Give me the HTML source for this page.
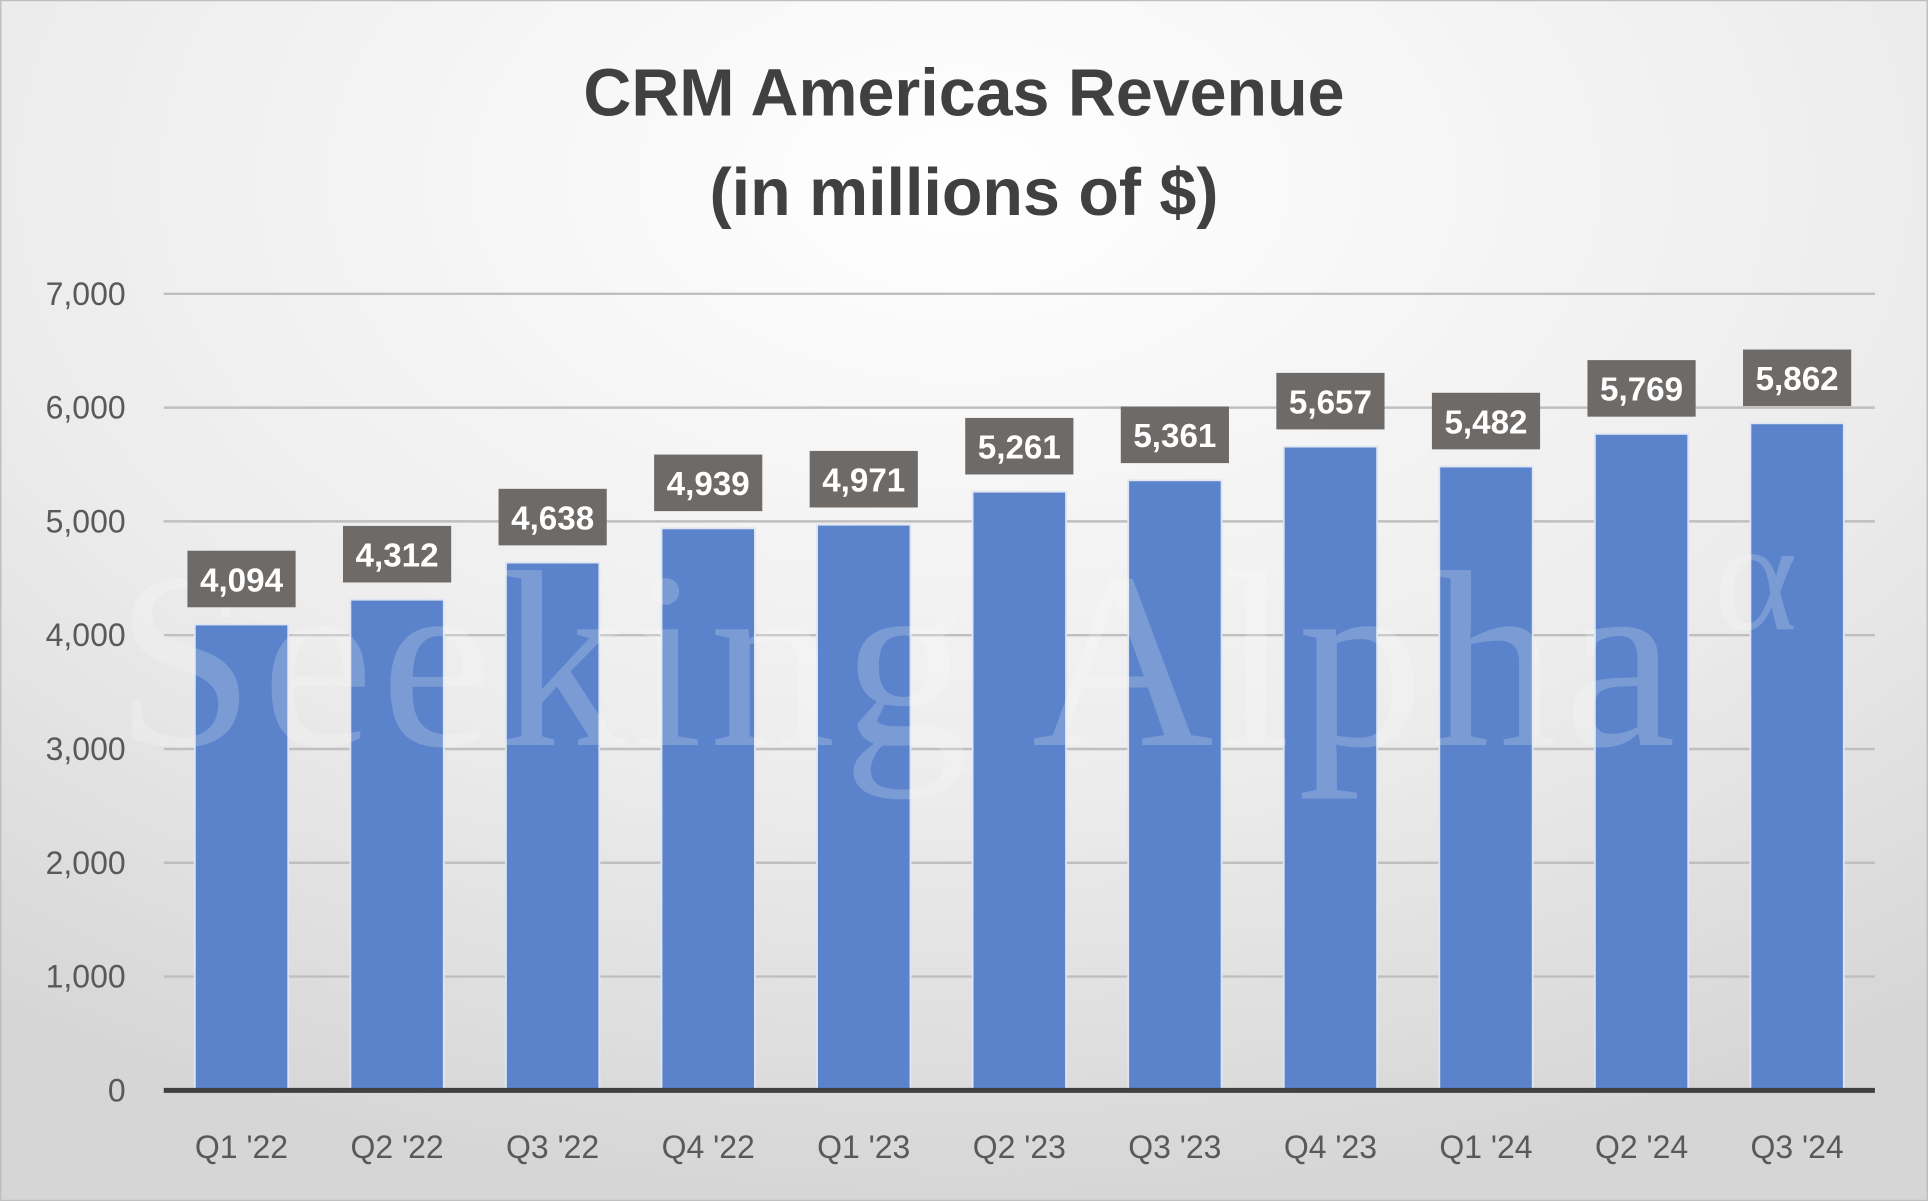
<!DOCTYPE html>
<html><head><meta charset="utf-8"><style>
html,body{margin:0;padding:0;background:#fff}
svg{display:block}
text{font-family:"Liberation Sans",sans-serif}
</style></head><body>
<svg id="chart" width="1928" height="1201" viewBox="0 0 1568 977" xmlns="http://www.w3.org/2000/svg">
<defs>
<radialGradient id="bg" cx="50%" cy="15%" r="85%">
<stop offset="0" stop-color="#ffffff"/><stop offset="0.6" stop-color="#ececec"/><stop offset="1" stop-color="#d6d6d6"/>
</radialGradient>
</defs>
<rect x="0" y="0" width="1568" height="977" fill="url(#bg)" stroke="#bfbfbf" stroke-width="2"/>
<text x="784" y="94" text-anchor="middle" font-size="54" font-weight="bold" fill="#404040">CRM Americas Revenue</text>
<text x="784" y="175" text-anchor="middle" font-size="54" font-weight="bold" fill="#404040">(in millions of $)</text>
<g id="grid"></g>
<g id="bars"></g>
<text x="728" y="606" text-anchor="middle" style="font-family:'Liberation Serif',serif;font-size:205px" textLength="1270" fill="#ffffff" fill-opacity="0.2">Seeking Alpha</text>
<text x="1428" y="512" text-anchor="middle" style="font-family:'Liberation Serif',serif;font-size:130px" fill="#ffffff" fill-opacity="0.2">α</text>
<g id="labels"></g>
<g id="xaxis"></g>
</svg>
<script>
const categories=["Q1 '22","Q2 '22","Q3 '22","Q4 '22","Q1 '23","Q2 '23","Q3 '23","Q4 '23","Q1 '24","Q2 '24","Q3 '24"];
const revenue=[4094,4312,4638,4939,4971,5261,5361,5657,5482,5769,5862];
const yTicks=[0,1000,2000,3000,4000,5000,6000,7000];
const NS="http://www.w3.org/2000/svg";
const x0=133,x1=1525,yBase=887,yTop=239,yMax=7000;
const band=(x1-x0)/categories.length;
const y=v=>yBase-(v/yMax)*(yBase-yTop);
const xc=i=>x0+band*(i+0.5);
function mk(tag,attrs,parent,txt){const e=document.createElementNS(NS,tag);for(const k in attrs)e.setAttribute(k,attrs[k]);if(txt!==undefined)e.textContent=txt;parent.appendChild(e);return e;}
const grid=document.getElementById('grid'),bars=document.getElementById('bars'),labels=document.getElementById('labels'),xa=document.getElementById('xaxis');
yTicks.forEach(t=>{
 if(t>0){const l=mk('line',{x1:x0,x2:x1,y1:y(t),y2:y(t),stroke:'#bfbfbf','stroke-width':2},grid);
 
 }
 const tx=mk('text',{x:102,y:y(t)+9,'text-anchor':'end','font-size':26,fill:'#595959'},grid,t.toLocaleString('en-US'));
 
 
});
const bw=76;
revenue.forEach((v,i)=>{
 const r=mk('rect',{x:xc(i)-bw/2,y:y(v),width:bw,height:yBase-y(v),fill:'#5b83cb',stroke:'#dfe6f3','stroke-width':1.5},bars);
 
 
 const g=mk('g',{},labels);
 
 
 mk('rect',{x:xc(i)-44,y:y(v)-60,width:88,height:46,fill:'#6e6a68'},g);
 mk('text',{x:xc(i),y:y(v)-27,'text-anchor':'middle','font-size':27,'font-weight':'bold',fill:'#ffffff'},g,v.toLocaleString('en-US'));
 const xl=mk('text',{x:xc(i),y:942,'text-anchor':'middle','font-size':26,fill:'#595959'},xa,categories[i]);
 
 
});
const ax=mk('line',{x1:x0,x2:x1,y1:yBase,y2:yBase,stroke:'#404040','stroke-width':4},xa);


</script>
</body></html>
